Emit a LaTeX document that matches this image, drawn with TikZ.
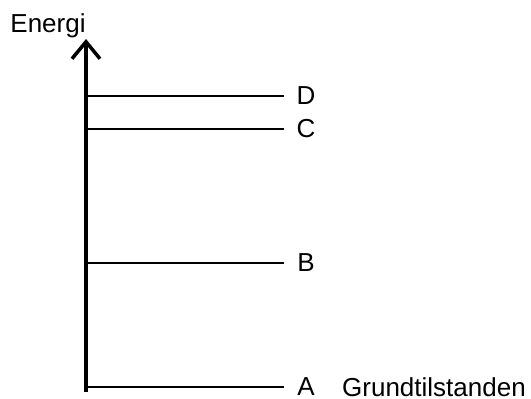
\documentclass[tikz,border=0pt]{standalone}
\usepackage{fontspec}
\setmainfont{Liberation Sans}
\usetikzlibrary{arrows.meta}
\begin{document}
\begin{tikzpicture}[x=1pt,y=-1pt,
  lbl/.style={inner sep=0pt,font=\fontsize{26}{26}\selectfont},
  level/.style={line width=2pt},
  axis/.style={line width=3.2pt,-{Straight Barb[length=17pt,width=28pt,line width=3.5pt]}}]
  \useasboundingbox (0,0) rectangle (531,399);
  % energy axis
  \coordinate (bot) at (86,392);
  \coordinate (top) at (86,39);
  \draw[axis] (bot) -- (top);
  \node[lbl] (energi) at (48,26) {Energi};
  % energy levels
  \foreach \name/\y in {D/96,C/129,B/263,A/387}{
    \coordinate (s\name) at (86,\y);
    \coordinate (e\name) at (284,\y);
    \node[lbl] (l\name) at (306,\y) {\name};
    \draw[level] (s\name) -- (e\name);
  }
  \node[lbl,anchor=west] (ground) at (342,387) {Grundtilstanden};
\end{tikzpicture}
\end{document}
